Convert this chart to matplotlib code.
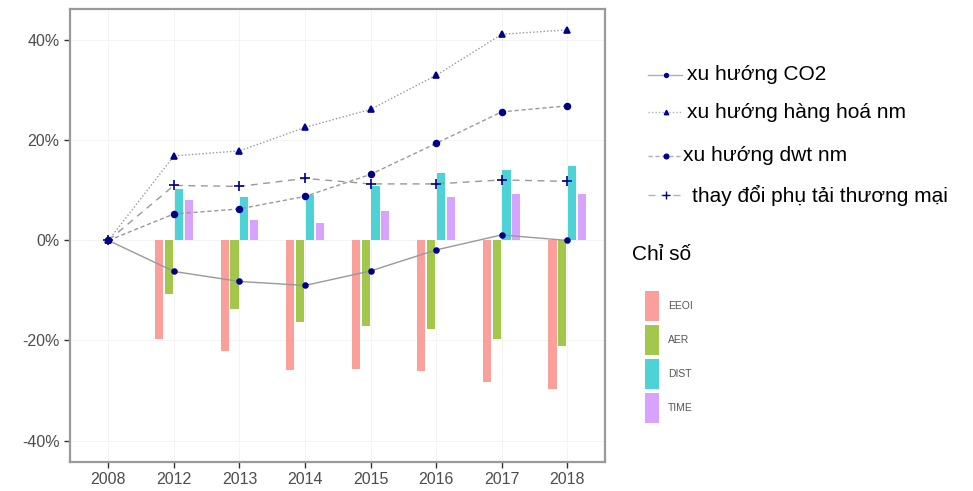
import numpy as np
import matplotlib
matplotlib.use("Agg")
import matplotlib.pyplot as plt
from matplotlib.lines import Line2D
from matplotlib.patches import Rectangle
from matplotlib.ticker import PercentFormatter

plt.rcParams["font.family"] = ["Liberation Sans", "DejaVu Sans"]
plt.rcParams["axes.unicode_minus"] = False

years = ["2008", "2012", "2013", "2014", "2015", "2016", "2017", "2018"]

# index decomposition (bars, 2012-2018), percent change vs 2008
bar_names = ["EEOI", "AER", "DIST", "TIME"]
eeoi = [-19.7, -22.2, -25.9, -25.7, -26.2, -28.4, -29.7]
aer = [-10.8, -13.8, -16.4, -17.1, -17.8, -19.7, -21.2]
dist = [10.3, 8.6, 9.1, 10.9, 13.4, 14.1, 14.8]
time_ = [8.1, 4.1, 3.4, 5.8, 8.6, 9.2, 9.2]

# trend lines (2008-2018), percent change vs 2008
co2 = [0, -6.2, -8.2, -9.0, -6.1, -1.9, 1.1, 0.0]
cargo_nm = [0, 16.9, 17.9, 22.6, 26.2, 33.0, 41.2, 42.1]
dwt_nm = [0, 5.3, 6.3, 8.8, 13.2, 19.4, 25.7, 26.9]
load_change = [0, 11.0, 10.8, 12.4, 11.3, 11.3, 12.1, 11.8]

line_labels = ["xu hướng CO2", "xu hướng hàng hoá nm", "xu hướng dwt nm",
               "thay đổi phụ tải thương mại"]
legend_title = "Chỉ số"

bar_colors = ["#FA9F99", "#A3C64D", "#4DD2D6", "#D8A3FF"]
navy = "#00008B"
line_gray = "#999999"

fig = plt.figure(figsize=(9.73, 4.91), dpi=100)
ax = fig.add_axes([0.072, 0.059, 0.55, 0.922])

x = np.arange(len(years))
bx = x[1:]
width = 0.125
offsets = [-0.225, -0.075, 0.075, 0.225]
for vals, off, col in zip([eeoi, aer, dist, time_], offsets, bar_colors):
    ax.bar(bx + off, vals, width=width, color=col, zorder=2, linewidth=0)

line_styles = [
    dict(data=co2, ls="-", marker="o", ms=3.5),
    dict(data=cargo_nm, ls=(0, (1, 1.5)), marker="^", ms=4),
    dict(data=dwt_nm, ls=(0, (3, 2)), marker="o", ms=4.2),
    dict(data=load_change, ls=(0, (5, 4)), marker="+", ms=7),
]
for st in line_styles:
    ax.plot(x, st["data"], color=line_gray, lw=1, ls=st["ls"], zorder=3)
    ax.plot(x, st["data"], ls="none", marker=st["marker"], ms=st["ms"],
            color=navy, mew=1.2, zorder=4)

ax.set_xlim(-0.585, 7.58)
ax.set_ylim(-44.3, 46.2)
ax.set_xticks(x)
ax.set_xticklabels(years)
ax.set_yticks([-40, -20, 0, 20, 40])
ax.yaxis.set_major_formatter(PercentFormatter(decimals=0))
ax.grid(True, color="#F2F2F2", lw=0.6, zorder=0)
ax.set_axisbelow(True)
ax.tick_params(axis="both", colors="#333333", length=4, width=1,
               labelsize=11.5, labelcolor="#4D4D4D")
for sp in ax.spines.values():
    sp.set_color("#9A9A9A")
    sp.set_linewidth(1.6)

# legend for the trend lines, drawn in pixel coordinates of the figure
W, H = 973, 491
def fx(px):
    return px / W
def fy(py):
    return 1 - py / H

rows = [(75, 687), (112, 687), (156, 683), (195, 692)]
for st, lab, (ry, tx) in zip(line_styles, line_labels, rows):
    fig.add_artist(Line2D([fx(648), fx(682)], [fy(ry), fy(ry)],
                          transform=fig.transFigure, color="#B0B0B0",
                          lw=1, ls=st["ls"]))
    fig.add_artist(Line2D([fx(666)], [fy(ry)], transform=fig.transFigure,
                          ls="none", marker=st["marker"],
                          ms=st["ms"] * 0.8, color=navy, mew=1))
    fig.text(fx(tx), fy(ry), lab, fontsize=15, va="center", ha="left",
             color="black")

# legend for the bars
fig.text(fx(632), fy(255), legend_title, fontsize=15, va="center",
         ha="left", color="black")
for i, (name, col) in enumerate(zip(bar_names, bar_colors)):
    top = 291 + i * 34
    fig.add_artist(Rectangle((fx(645), fy(top + 30)), 14 / W, 30 / H,
                             transform=fig.transFigure, color=col, lw=0))
    fig.text(fx(668), fy(top + 15), name, fontsize=7.5, va="center",
             ha="left", color="#555555")

fig.savefig("out.png", dpi=100)
